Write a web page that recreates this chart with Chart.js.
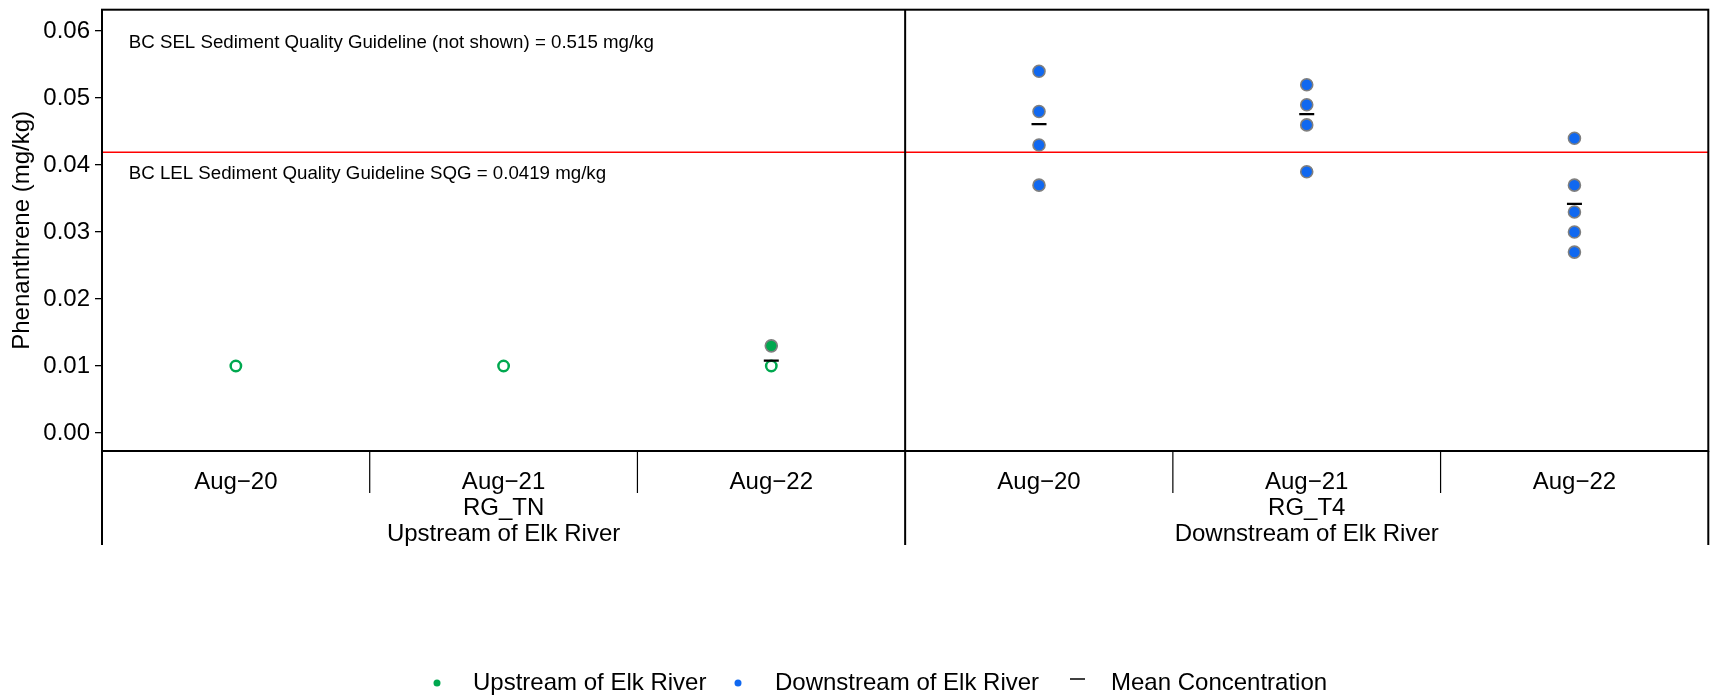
<!DOCTYPE html>
<html>
<head>
<meta charset="utf-8">
<script src="https://cdn.jsdelivr.net/npm/chart.js@4.4.1/dist/chart.umd.min.js"></script>
<style>
  html, body { margin: 0; padding: 0; background: #fff; }
</style>
</head>
<body>
<canvas id="chart" width="1718" height="699"></canvas>
<script>
// categorias
const dates = ['Aug\u221220', 'Aug\u221221', 'Aug\u221222'];
const sites = ['RG_TN', 'RG_T4'];
const siteGroups = ['Upstream of Elk River', 'Downstream of Elk River'];
const yTicks = [0, 0.01, 0.02, 0.03, 0.04, 0.05, 0.06];

// valores por data de amostragem (mg/kg)
const upDetected = [[], [], [0.013]];
const upNonDetect = [[0.010], [0.010], [0.010]];
const downDetected = [
    [0.054, 0.048, 0.043, 0.037],
    [0.052, 0.049, 0.046, 0.039],
    [0.044, 0.037, 0.033, 0.030, 0.027]
];
const upMeans = [null, null, 0.0108];
const downMeans = [0.0461, 0.0476, 0.0342];

const lelValue = 0.0419;
const selLabel = 'BC SEL Sediment Quality Guideline (not shown) = 0.515 mg/kg';
const lelLabel = 'BC LEL Sediment Quality Guideline SQG = 0.0419 mg/kg';

const FONT = '"Liberation Sans", Arial, Helvetica, sans-serif';
const GREEN = '#00a84f';
const BLUE = '#1068f0';

function toPoints(groups, siteIdx) {
    const pts = [];
    groups.forEach((vals, d) => {
        vals.forEach(v => pts.push({ x: siteIdx * 3 + d + 0.5, y: v }));
    });
    return pts;
}

function meanPoints(means, siteIdx) {
    return means
        .map((v, d) => (v === null ? null : { x: siteIdx * 3 + d + 0.5, y: v }))
        .filter(p => p !== null);
}

// caixa, divisórias, linha guia, rótulos e legenda
const framePlugin = {
    id: 'frame',
    beforeDatasetsDraw(chart) {
        const { ctx, chartArea: a, scales: { y } } = chart;
        const yy = y.getPixelForValue(lelValue);
        ctx.save();
        ctx.strokeStyle = '#ff0000';
        ctx.lineWidth = 1.5;
        ctx.beginPath();
        ctx.moveTo(a.left, yy);
        ctx.lineTo(a.right, yy);
        ctx.stroke();

        ctx.fillStyle = '#000';
        ctx.font = '18.7px ' + FONT;
        ctx.textAlign = 'left';
        ctx.textBaseline = 'middle';
        const tx = chart.scales.x.getPixelForValue(0.1);
        ctx.fillText(selLabel, tx, y.getPixelForValue(0.0582));
        ctx.fillText(lelLabel, tx, y.getPixelForValue(0.0387));
        ctx.restore();
    },
    afterDraw(chart) {
        const { ctx, chartArea: a, scales: { x } } = chart;
        const bottomOuter = 545;
        const bottomInner = 493;
        ctx.save();
        ctx.strokeStyle = '#000';

        ctx.lineWidth = 2;
        ctx.strokeRect(a.left, a.top, a.right - a.left, a.bottom - a.top);

        ctx.beginPath();
        [0, 3, 6].forEach(v => {
            const px = x.getPixelForValue(v);
            ctx.moveTo(px, v === 3 ? a.top : a.bottom);
            ctx.lineTo(px, bottomOuter);
        });
        ctx.stroke();

        ctx.lineWidth = 1.2;
        ctx.beginPath();
        [1, 2, 4, 5].forEach(v => {
            const px = x.getPixelForValue(v);
            ctx.moveTo(px, a.bottom);
            ctx.lineTo(px, bottomInner);
        });
        ctx.stroke();

        ctx.fillStyle = '#000';
        ctx.font = '24px ' + FONT;
        ctx.textAlign = 'center';
        ctx.textBaseline = 'middle';
        sites.forEach((s, si) => {
            dates.forEach((d, di) => {
                ctx.fillText(d, x.getPixelForValue(si * 3 + di + 0.5), 482);
            });
            const cx = x.getPixelForValue(si * 3 + 1.5);
            ctx.fillText(s, cx, 508);
            ctx.fillText(siteGroups[si], cx, 534);
        });

        // legenda
        const ly = 683;
        ctx.textAlign = 'left';
        ctx.beginPath();
        ctx.fillStyle = GREEN;
        ctx.arc(437, ly, 3.5, 0, Math.PI * 2);
        ctx.fill();
        ctx.beginPath();
        ctx.fillStyle = BLUE;
        ctx.arc(738, ly, 3.5, 0, Math.PI * 2);
        ctx.fill();
        ctx.lineWidth = 1.5;
        ctx.beginPath();
        ctx.moveTo(1070, ly - 4);
        ctx.lineTo(1085, ly - 4);
        ctx.stroke();
        ctx.fillStyle = '#000';
        ctx.fillText(siteGroups[0], 473, ly);
        ctx.fillText(siteGroups[1], 775, ly);
        ctx.fillText('Mean Concentration', 1111, ly);
        ctx.restore();
    }
};

const ctx = document.getElementById('chart');
new Chart(ctx, {
    type: 'scatter',
    data: {
        datasets: [{
            label: 'Mean Concentration',
            data: meanPoints(upMeans, 0).concat(meanPoints(downMeans, 1)),
            pointStyle: 'line',
            pointRadius: 7.5,
            borderColor: '#000',
            borderWidth: 2.2,
            backgroundColor: '#000'
        }, {
            label: 'Upstream non-detect',
            data: toPoints(upNonDetect, 0),
            pointRadius: 5.2,
            borderColor: GREEN,
            borderWidth: 2.5,
            backgroundColor: 'rgba(255,255,255,0)'
        }, {
            label: 'Upstream of Elk River',
            data: toPoints(upDetected, 0),
            pointRadius: 6,
            borderColor: '#7f7f7f',
            borderWidth: 1.6,
            backgroundColor: GREEN
        }, {
            label: 'Downstream of Elk River',
            data: toPoints(downDetected, 1),
            pointRadius: 6,
            borderColor: '#7f7f7f',
            borderWidth: 1.6,
            backgroundColor: BLUE
        }]
    },
    options: {
        responsive: false,
        animation: false,
        events: [],
        devicePixelRatio: 1,
        layout: {
            padding: { top: 7.5, right: 4, bottom: 248, left: 0 }
        },
        plugins: {
            legend: { display: false },
            tooltip: { enabled: false }
        },
        scales: {
            x: {
                type: 'linear',
                min: 0,
                max: 6,
                display: false
            },
            y: {
                type: 'linear',
                min: -0.0027,
                max: 0.0632,
                afterBuildTicks: s => {
                    s.ticks = yTicks.map(v => ({ value: v }));
                },
                afterFit: s => {
                    s.width = 102;
                    s.paddingTop = 0;
                    s.paddingBottom = 0;
                },
                border: { display: false },
                grid: {
                    drawOnChartArea: false,
                    drawTicks: true,
                    tickLength: 7,
                    tickColor: '#000',
                    lineWidth: 1.3
                },
                ticks: {
                    color: '#000',
                    padding: 5,
                    font: { size: 24, family: FONT },
                    callback: v => v.toFixed(2)
                },
                title: {
                    display: true,
                    text: 'Phenanthrene (mg/kg)',
                    color: '#000',
                    font: { size: 24, family: FONT },
                    padding: { top: 8, bottom: 0 }
                }
            }
        }
    },
    plugins: [framePlugin]
});
</script>
</body>
</html>
